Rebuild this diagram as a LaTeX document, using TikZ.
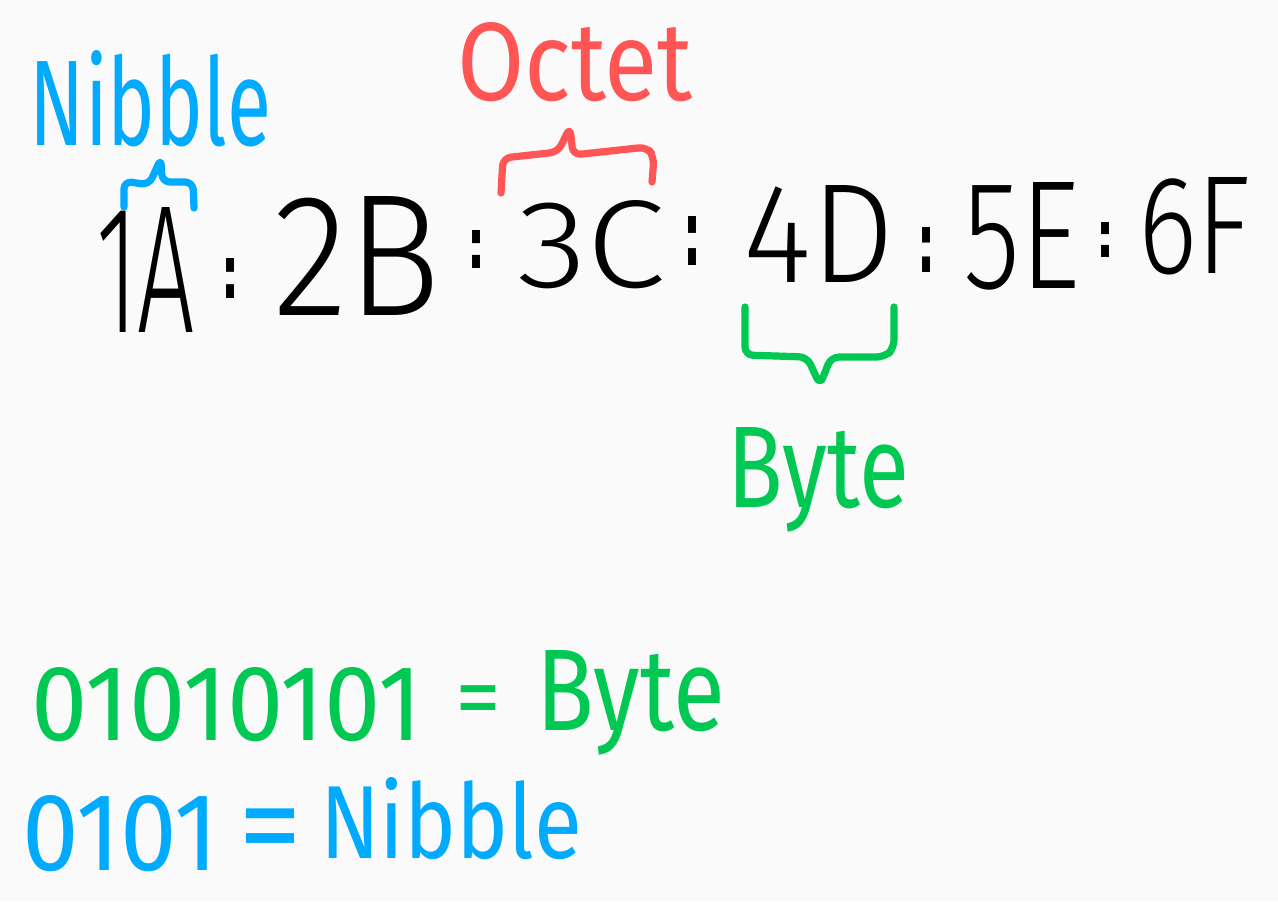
\documentclass[tikz,border=0pt]{standalone}
\usepackage{fontspec}
\setmainfont{Fira Sans Light}
\newfontfamily\labfont{Fira Sans}
\newfontfamily\dotfont{DejaVu Sans}
\usepackage{graphicx}
\newdimen\pxu \pxu=0.5pt
\newcommand\fitbox[3]{\resizebox{#1\pxu}{#2\pxu}{#3}}
\definecolor{inkblue}{HTML}{00AAFF}
\definecolor{inkred}{HTML}{FF5555}
\definecolor{inkgreen}{HTML}{00C853}
\definecolor{paper}{HTML}{FAFAFA}
\begin{document}
\begin{tikzpicture}[x=0.5pt,y=-0.5pt,
  tok/.style={inner sep=0pt, outer sep=0pt, anchor=base west, font=\fontsize{60}{60}\selectfont},
  lab/.style={tok, font=\labfont\fontsize{60}{60}\selectfont},
  col/.style={inner sep=0pt, outer sep=0pt, anchor=base, font=\dotfont\bfseries\fontsize{60}{60}\selectfont},
  eq/.style={inner sep=0pt, outer sep=0pt, anchor=north, font=\labfont\fontsize{60}{60}\selectfont},
  bracestroke/.style={line width=3.6pt, line cap=round, line join=round, rounded corners=4pt}]
\fill[paper] (0,0) rectangle (1278,901);
\useasboundingbox (0,0) rectangle (1278,901);
% main address
\node[tok] (t1) at (96,332) {\fitbox{99}{125}{1A}};
\node[col] (c1) at (230,298) {\fitbox{18}{40}{:}};
\node[tok] (t2) at (273,315) {\fitbox{168}{119}{2B}};
\node[col] (c2) at (476,268) {\fitbox{18}{38}{:}};
\node[tok] (t3) at (517,287) {\fitbox{149}{87}{3C}};
\node[col] (c3) at (692,265) {\fitbox{18}{49}{:}};
\node[tok] (t4) at (743,282) {\fitbox{151}{97}{4D}};
\node[col] (c4) at (926,272) {\fitbox{18}{45}{:}};
\node[tok] (t5) at (963,288) {\fitbox{117}{106}{5E}};
\node[col] (c5) at (1105,257) {\fitbox{18}{35}{:}};
\node[tok] (t6) at (1138,273) {\fitbox{113}{96}{6F}};
% labels
\node[lab, text=inkblue] (nib) at (30,145) {\fitbox{241}{95}{Nibble}};
\node[lab, text=inkred] (oct) at (457,100) {\fitbox{236}{78}{Octet}};
\node[lab, text=inkgreen] (byt) at (727,507) {\fitbox{182}{80}{Byte}};
% braces
\draw[bracestroke, inkblue] (124,207) -- (124,181) -- (149,185) -- (161,158) -- (162,182) -- (193,182) -- (194,208);
\draw[bracestroke, inkred] (501,193) -- (503,158) -- (558,152) -- (570,127) -- (573,155) -- (647,147) -- (654,157) -- (652,182);
\draw[bracestroke, inkgreen] (745,307) -- (745,355) -- (807,357) -- (820,385) -- (831,357) -- (885,357) -- (894,348) -- (894,307);
% legend
\node[lab, text=inkgreen] (bits8) at (32,740) {\fitbox{390}{73}{01010101}};
\node[eq, text=inkgreen] (eq1) at (478,686) {\resizebox{46\pxu}{!}{=}};
\node[lab, text=inkgreen] (byt2) at (536,730) {\fitbox{189}{80}{Byte}};
\node[lab, text=inkblue] (bits4) at (22,870) {\fitbox{196}{75}{0101}};
\node[eq, text=inkblue] (eq2) at (270,809) {\resizebox{64\pxu}{!}{=}};
\node[lab, text=inkblue] (nib2) at (320,858) {\fitbox{262}{81}{Nibble}};
\end{tikzpicture}
\end{document}
